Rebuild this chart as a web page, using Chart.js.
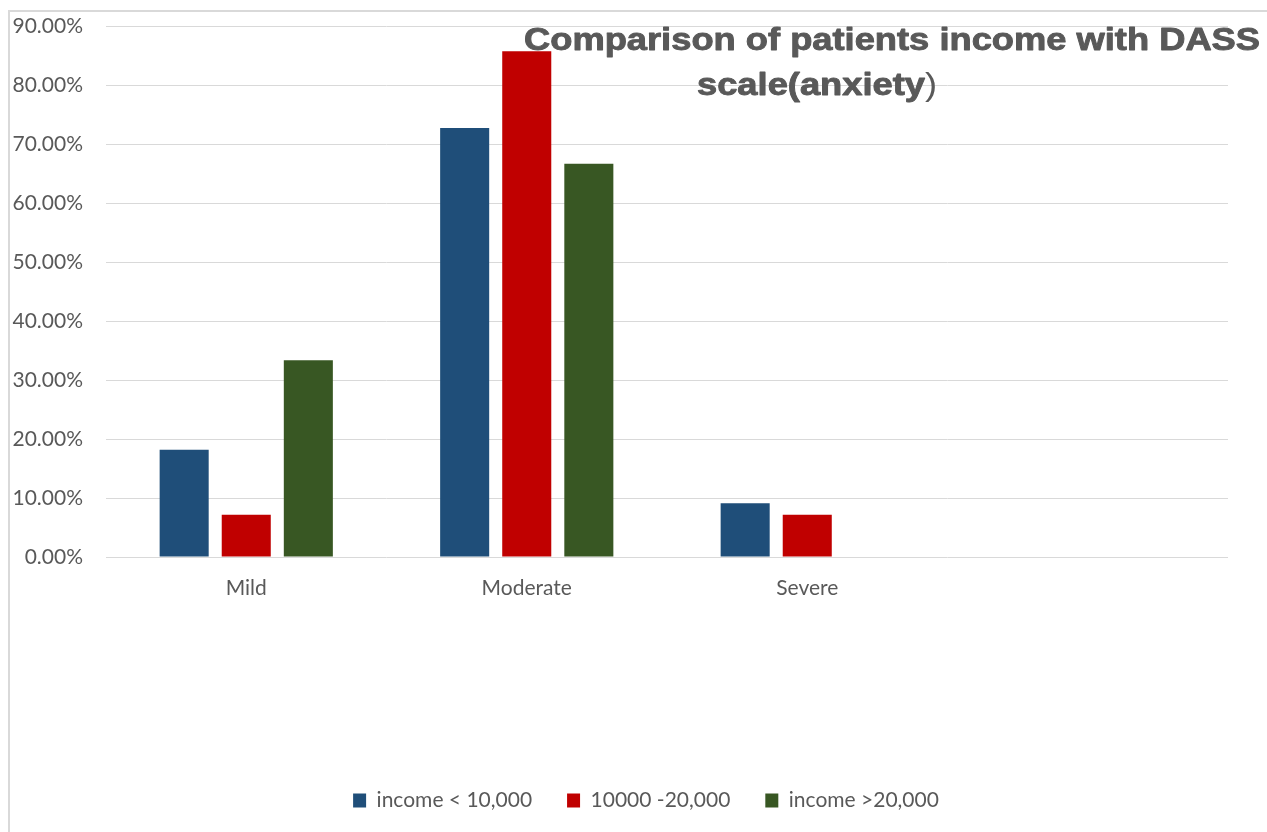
<!DOCTYPE html>
<html>
<head>
<meta charset="utf-8">
<script src="https://cdn.jsdelivr.net/npm/chart.js@4.4.1/dist/chart.umd.min.js"></script>
<style>
  html, body { margin: 0; padding: 0; background: #fff; }
  #wrap { width: 1267px; height: 832px; }
</style>
</head>
<body>
<div id="wrap"><canvas id="dassChart"></canvas></div>
<script>
const categories = ["Mild", "Moderate", "Severe", ""];
const lowIncome = [18.18, 72.73, 9.09, null];
const midIncome = [7.14, 85.71, 7.14, null];
const highIncome = [33.33, 66.67, 0, null];
const seriesNames = ["income < 10,000", "10000 -20,000", "income >20,000"];
const titleLines = ["Comparison of patients income with DASS", "scale(anxiety", ")"];

// frame + title drawn by hand, Excel style
const frameAndTitle = {
  id: "frameAndTitle",
  afterLayout(chart) {
    // legend in the original sits centred on the whole frame, not the plot
    chart.legend.left += 64;
  },
  beforeDraw(chart) {
    const ctx = chart.ctx;
    ctx.save();
    ctx.strokeStyle = "#d9d9d9";
    ctx.lineWidth = 2;
    ctx.beginPath();
    ctx.moveTo(9, 832);
    ctx.lineTo(9, 11);
    ctx.lineTo(1267, 11);
    ctx.stroke();
    ctx.restore();
  },
  afterDraw(chart) {
    const ctx = chart.ctx;
    ctx.save();
    ctx.fillStyle = "#595959";
    ctx.strokeStyle = "#595959";
    ctx.lineWidth = 0.9;
    ctx.lineJoin = "round";
    ctx.textBaseline = "alphabetic";
    ctx.textAlign = "left";
    ctx.font = "bold 31px 'Liberation Sans', Arial, sans-serif";
    const w = ctx.measureText(titleLines[0]).width;
    const sx = 736 / w;
    ctx.translate(524, 0);
    ctx.scale(sx, 1);
    ctx.fillText(titleLines[0], 0, 50);
    ctx.strokeText(titleLines[0], 0, 50);
    const x2 = (697 - 524) / sx;
    ctx.fillText(titleLines[1], x2, 95);
    ctx.strokeText(titleLines[1], x2, 95);
    const w2 = ctx.measureText(titleLines[1]).width;
    ctx.font = "31px 'Liberation Sans', Arial, sans-serif";
    ctx.fillText(titleLines[2], x2 + w2, 95);
    ctx.restore();
  }
};

const ctx = document.getElementById("dassChart").getContext("2d");

new Chart(ctx, {
  type: "bar",
  data: {
    labels: categories,
    datasets: [
      { label: seriesNames[0], data: lowIncome, backgroundColor: "#1f4e79" },
      { label: seriesNames[1], data: midIncome, backgroundColor: "#c00000" },
      { label: seriesNames[2], data: highIncome, backgroundColor: "#385723" }
    ]
  },
  options: {
    responsive: true,
    maintainAspectRatio: false,
    animation: false,
    categoryPercentage: 0.664,
    barPercentage: 0.79,
    layout: { padding: { top: 26, right: 39, bottom: 11, left: 0 } },
    plugins: {
      title: { display: false },
      tooltip: { enabled: false },
      legend: {
        position: "bottom",
        labels: {
          boxWidth: 13,
          boxHeight: 14,
          padding: 35,
          color: "#595959",
          font: { family: "Lato", size: 21 }
        }
      }
    },
    scales: {
      x: {
        grid: { display: false },
        border: { display: false },
        ticks: {
          color: "#595959",
          padding: 11,
          font: { family: "Lato", size: 21 }
        },
        afterFit(scale) { scale.height = 198; }
      },
      y: {
        min: 0,
        max: 90,
        border: { display: false },
        grid: {
          color: "#d9d9d9",
          lineWidth: 1,
          drawTicks: true,
          tickLength: 23,
          tickColor: "rgba(0,0,0,0)"
        },
        ticks: {
          stepSize: 10,
          color: "#595959",
          padding: 0,
          font: { family: "Lato", size: 21 },
          callback: (v) => v.toFixed(2) + "%"
        },
        afterFit(scale) { scale.width = 106; }
      }
    }
  },
  plugins: [frameAndTitle]
});
</script>
</body>
</html>
